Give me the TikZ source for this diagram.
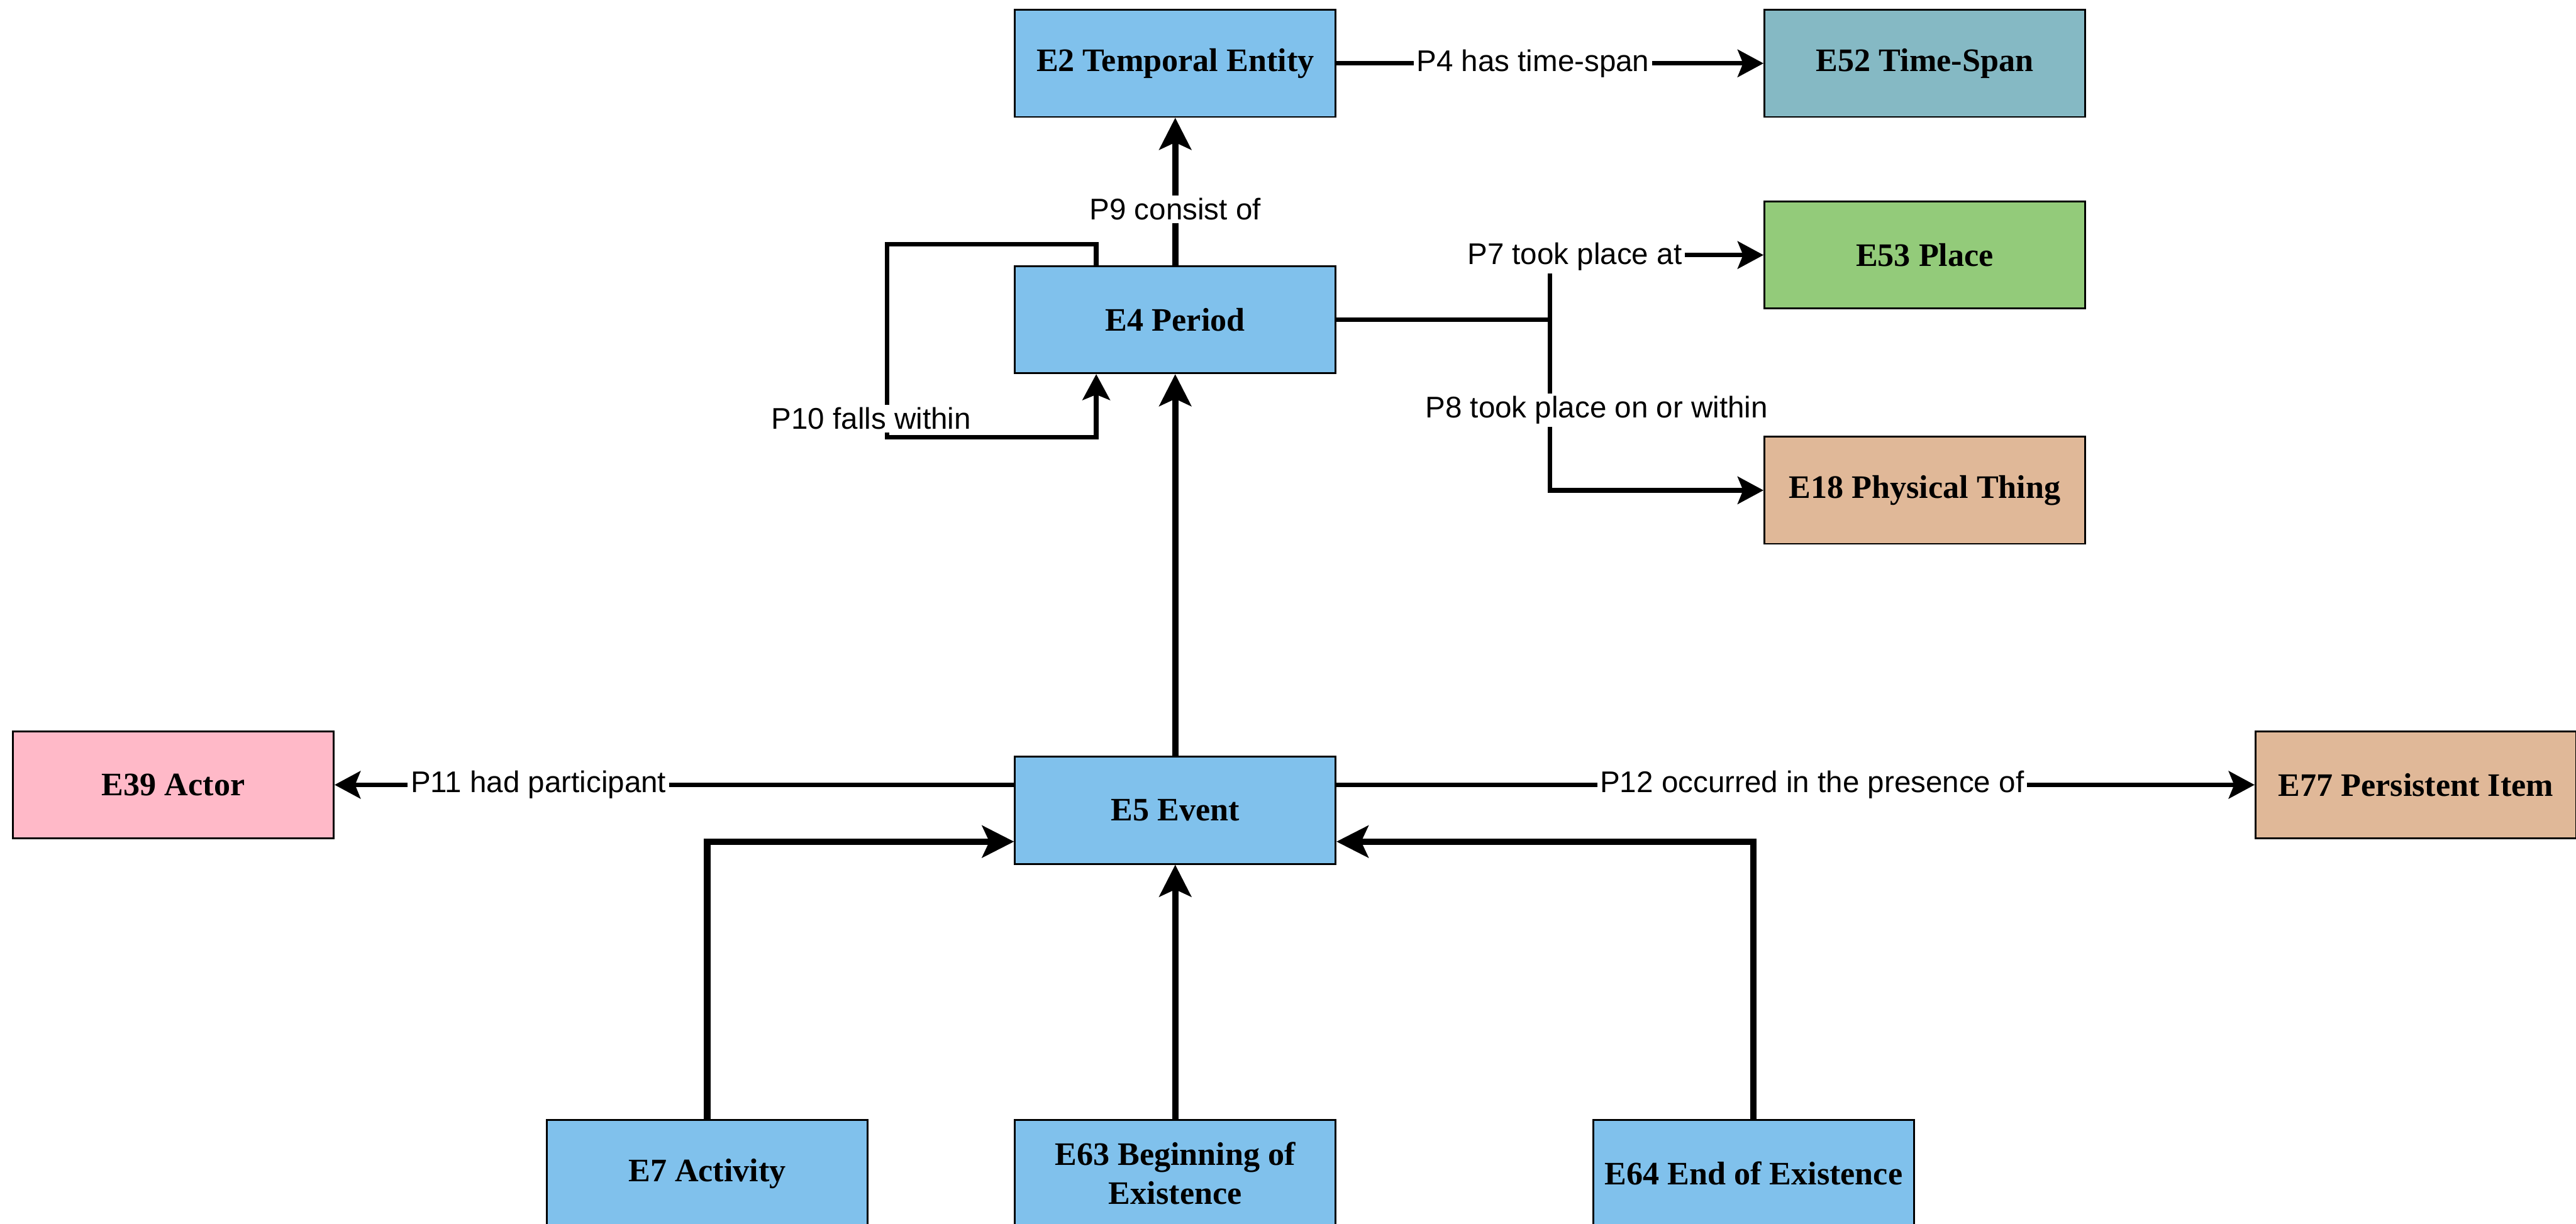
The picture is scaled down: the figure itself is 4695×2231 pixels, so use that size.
\documentclass[tikz,border=0pt]{standalone}
\usepackage{fontspec}
\setmainfont{Liberation Serif}
\newfontfamily\lblfont{Liberation Sans}
\usetikzlibrary{arrows.meta,calc}

\definecolor{evblue}{RGB}{128,193,236}
\definecolor{spanteal}{RGB}{133,185,196}
\definecolor{placegreen}{RGB}{147,203,122}
\definecolor{thingtan}{RGB}{224,184,152}
\definecolor{actorpink}{RGB}{255,185,200}

\begin{document}
\begin{tikzpicture}[x=0.01cm, y=-0.01cm,
  cls/.style={draw=black, line width=0.9pt, minimum width=166.2pt,
    minimum height=55.5pt, inner sep=0pt, align=center,
    font=\fontsize{17}{20}\selectfont\bfseries},
  lbl/.style={fill=white, inner sep=1.5pt,
    font=\lblfont\fontsize{15.5}{18}\selectfont},
  rel/.style={line width=2.4pt,
    -{Stealth[length=13.4pt, width=14.2pt, inset=2.8pt]}},
  isa/.style={line width=3.3pt,
    -{Stealth[length=16.5pt, width=16.5pt, inset=3.7pt]}},
]
\useasboundingbox (0,0) rectangle (4695,2231);

% classes
\node[cls, fill=evblue]     (E2)  at (2142,115.5) {E2 Temporal Entity};
\node[cls, fill=spanteal]   (E52) at (3508,115.5) {E52 Time-Span};
\node[cls, fill=placegreen] (E53) at (3508,465)   {E53 Place};
\node[cls, fill=evblue]     (E4)  at (2142,583)   {E4 Period};
\node[cls, fill=thingtan]   (E18) at (3508,894)   {E18 Physical Thing};
\node[cls, fill=actorpink]  (E39) at (316,1431)   {E39 Actor};
\node[cls, fill=evblue]     (E5)  at (2142,1477.5){E5 Event};
\node[cls, fill=thingtan]   (E77) at (4403,1431)  {E77 Persistent Item};
\node[cls, fill=evblue]     (E7)  at (1289,2139.5){E7 Activity};
\node[cls, fill=evblue]     (E63) at (2142,2139.5){E63 Beginning of\\Existence};
\node[cls, fill=evblue]     (E64) at (3196,2139.5){E64 End of Existence};

% routing points
\coordinate (lpA) at (1998,445);
\coordinate (lpB) at (1617,445);
\coordinate (lpC) at (1617,797);
\coordinate (lpD) at (1998,797);
\coordinate (split) at (2825,583);

% properties
\draw[rel] (E2.east) -- (E52.west)
  node[lbl, pos=0.46] {P4 has time-span};
\draw[isa] (E4.north) -- (E2.south)
  node[lbl, pos=0.38] {P9 consist of};
\draw[rel] (E4.north -| lpA) -- (lpA) -- (lpB) -- (lpC) -- (lpD) -- (E4.south -| lpD);
\node[lbl] (p10) at (1588,763) {P10 falls within};

\draw[rel] (E4.east) -- (split) |- (E53.west);
\draw[rel] (split) |- (E18.west);
\node[lbl] (p7) at (2870,468) {P7 took place at};
\node[lbl] (p8) at (2910,748) {P8 took place on or within};

\draw[isa] (E5.north) -- (E4.south);
\draw[rel] (E5.west |- E39.east) -- (E39.east)
  node[lbl, pos=0.70] {P11 had participant};
\draw[rel] (E5.east |- E77.west) -- (E77.west)
  node[lbl, pos=0.518] {P12 occurred in the presence of};

% subclasses of E5
\draw[isa] (E7.north) |- ($(E5.west)+(0,57)$);
\draw[isa] (E63.north) -- (E5.south);
\draw[isa] (E64.north) |- ($(E5.east)+(0,57)$);
\end{tikzpicture}
\end{document}
